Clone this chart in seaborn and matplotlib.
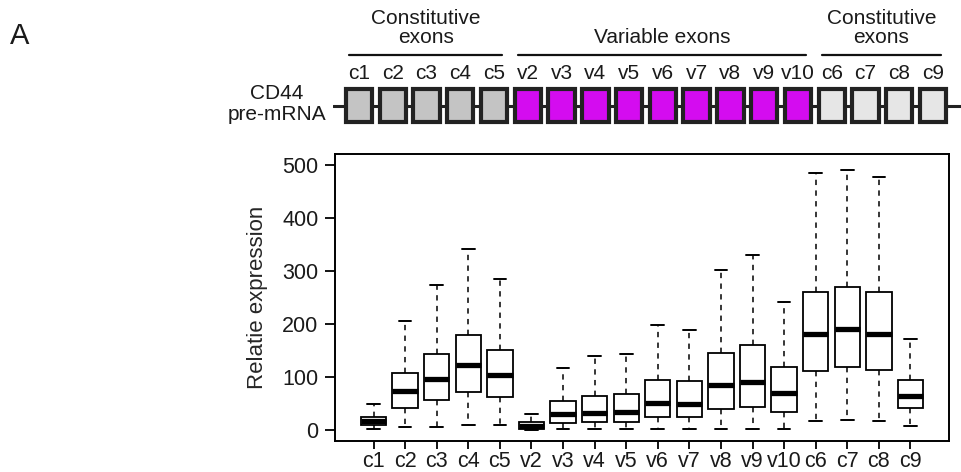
import pandas as pd
import seaborn as sns
import matplotlib.pyplot as plt
from matplotlib.patches import Rectangle

# exon names in order along the CD44 pre-mRNA
exons = ["c1", "c2", "c3", "c4", "c5",
         "v2", "v3", "v4", "v5", "v6", "v7", "v8", "v9", "v10",
         "c6", "c7", "c8", "c9"]

# five-number summaries
whisker_low = [1, 5, 6, 9, 9, 0, 1, 1, 1, 1, 1, 1, 1, 1, 16, 19, 17, 8]
q1 = [9, 41, 57, 71, 62, 2, 13, 14, 15, 24, 24, 39, 43, 33, 111, 118, 114, 41]
median = [17, 74, 97, 122, 104, 8, 30, 32, 34, 50, 49, 84, 91, 70, 181, 190, 182, 64]
q3 = [25, 107, 143, 179, 151, 14, 55, 64, 67, 94, 92, 145, 160, 118, 261, 269, 260, 94]
whisker_high = [49, 206, 273, 341, 285, 30, 117, 139, 143, 199, 189, 301, 330, 241, 486, 491, 478, 172]

# exon groups for the gene diagram
group_labels = ["Constitutive\nexons", "Variable exons", "Constitutive\nexons"]
group_sizes = [5, 9, 4]
group_colors = ["#c4c4c4", "#d40cf0", "#e6e6e6"]

# long form table: min / q1 / median / q3 / max per exon
rows = []
for name, vals in zip(exons, zip(whisker_low, q1, median, q3, whisker_high)):
    for v in vals:
        rows.append((name, v))
df = pd.DataFrame(rows, columns=["exon", "expression"])

sns.set_theme(style="ticks")
plt.rcParams["font.family"] = ["Liberation Sans", "DejaVu Sans"]
plt.rcParams["text.color"] = "#1a1a1a"

fig = plt.figure(figsize=(9.62, 4.72), dpi=100)
W, H = 962, 472

# ---- boxplot ----
ax = fig.add_axes([335 / W, 1 - 441 / H, (949 - 335) / W, (441 - 154) / H])
sns.boxplot(data=df, x="exon", y="expression", order=exons, ax=ax,
            whis=(0, 100), width=0.8, color="white", linecolor="black",
            linewidth=1.3, showfliers=False,
            whiskerprops=dict(linestyle=(0, (3.5, 3.5)), linewidth=1.1),
            capprops=dict(linewidth=1.4),
            medianprops=dict(linewidth=3.8))
ax.set_xlim(-1.22, len(exons) - 1 + 1.22)
ax.set_ylim(-21, 521)
ax.set_yticks(range(0, 501, 100))
ax.set_xlabel("")
ax.set_ylabel("Relatie expression", fontsize=16, labelpad=10)
for side in ax.spines.values():
    side.set_linewidth(1.4)
    side.set_color("black")
ax.tick_params(axis="both", labelsize=15.5, length=7, width=1.3,
               color="black", labelcolor="#1a1a1a", pad=5)
ax.tick_params(axis="x", length=6, pad=1.5)

# ---- gene diagram ----
ax_top = fig.add_axes([333 / W, 1 - 135 / H, (W - 333) / W, 135 / H])
ax_top.set_xlim(-0.77, 17.86)
ax_top.set_ylim(135, 0)
ax_top.axis("off")
ax_top.axhline(105.5, color="#222222", lw=2.2, zorder=1)

colors = []
for c, n in zip(group_colors, group_sizes):
    colors += [c] * n
for i, (name, col) in enumerate(zip(exons, colors)):
    ax_top.add_patch(Rectangle((i - 0.39, 89), 0.78, 33, facecolor=col,
                               edgecolor="#222222", lw=3, zorder=2))
    ax_top.text(i, 79, name, ha="center", va="baseline", fontsize=15)

start = 0
for label, n in zip(group_labels, group_sizes):
    x0, x1 = start - 0.3, start + n - 1 + 0.25
    ax_top.plot([x0, x1], [55, 55], color="#111111", lw=1.6)
    ax_top.text((x0 + x1) / 2, 47, label, ha="center", va="bottom",
                fontsize=15, linespacing=1.0)
    start += n

fig.text(277 / W, 1 - 104 / H, "CD44\npre-mRNA", ha="center", va="center",
         fontsize=15, linespacing=1.15)
fig.text(10 / W, 1 - 22 / H, "A", ha="left", va="top", fontsize=21)

fig.savefig("out.png", dpi=100)
